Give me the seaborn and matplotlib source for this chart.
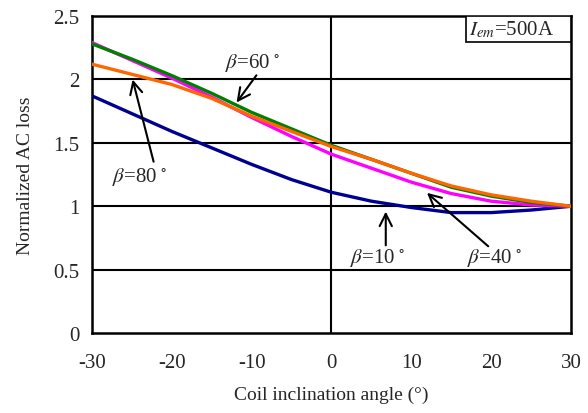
import pandas as pd
import matplotlib.pyplot as plt
import seaborn as sns
from matplotlib.patches import Rectangle

# coil inclination angle (deg)
angle = [-30, -25, -20, -15, -10, -5, 0, 5, 10, 15, 20, 25, 30]

# normalized AC loss for each beta
loss_b10 = [1.87, 1.73, 1.59, 1.46, 1.33, 1.21, 1.11, 1.04, 0.99, 0.95, 0.95, 0.97, 1.00]
loss_b40 = [2.29, 2.15, 2.01, 1.86, 1.70, 1.55, 1.41, 1.30, 1.19, 1.10, 1.04, 1.01, 1.00]
loss_b60 = [2.28, 2.16, 2.03, 1.89, 1.74, 1.61, 1.48, 1.37, 1.26, 1.15, 1.08, 1.03, 1.00]
loss_b80 = [2.12, 2.04, 1.96, 1.85, 1.71, 1.59, 1.47, 1.37, 1.26, 1.16, 1.09, 1.04, 1.00]

beta_labels = ['10', '40', '60', '80']
line_colors = ['#000090', '#ff00ff', '#008000', '#ff6600']

df = pd.DataFrame({
    'angle': angle * 4,
    'loss': loss_b10 + loss_b40 + loss_b60 + loss_b80,
    'beta': sum([[b] * len(angle) for b in beta_labels], []),
})

sns.set_style("white")
plt.rcParams['font.family'] = ['Liberation Serif', 'DejaVu Serif']
plt.rcParams['mathtext.fontset'] = 'stix'
plt.rcParams['axes.unicode_minus'] = False

fig = plt.figure(figsize=(5.88, 4.14), dpi=100)
ax = fig.add_axes([0.1565, 0.193, 0.8145, 0.766])

# grid lines and the zero line
for yv in [0.5, 1.0, 1.5, 2.0]:
    ax.axhline(yv, color='black', lw=1.5, zorder=1)
ax.axvline(0, color='black', lw=1.5, zorder=1)

sns.lineplot(data=df, x='angle', y='loss', hue='beta', palette=line_colors,
             linewidth=2.4, legend=False, ax=ax, zorder=3)

ax.set_xlim(-30, 30)
ax.set_ylim(0, 2.5)
ax.set_xticks([-30, -20, -10, 0, 10, 20, 30])
ax.set_yticks([0, 0.5, 1, 1.5, 2, 2.5])
ax.set_yticklabels(['0', '0.5', '1', '1.5', '2', '2.5'])
ax.tick_params(axis='x', direction='in', length=5, width=1.5, labelsize=15, pad=14)
ax.tick_params(axis='y', length=0, labelsize=15, pad=9)
for s in ax.spines.values():
    s.set_color('black')
    s.set_linewidth(1.8)

ax.set_xlabel('Coil inclination angle (°)', fontsize=14, labelpad=10)
ax.set_ylabel('Normalized AC loss', fontsize=14, labelpad=14)

# annotations
arrow = dict(arrowstyle='->', color='black', lw=1.5, mutation_scale=22)
ax.text(-9.8, 2.14, r'$\beta$=60$\,^\circ$', ha='center', va='center', fontsize=15)
ax.annotate('', xy=(-12.1, 1.80), xytext=(-9.2, 2.05), arrowprops=arrow)
ax.text(-24.0, 1.24, r'$\beta$=80$\,^\circ$', ha='center', va='center', fontsize=15)
ax.annotate('', xy=(-25.0, 2.02), xytext=(-22.2, 1.33), arrowprops=arrow)
ax.text(5.8, 0.60, r'$\beta$=10$\,^\circ$', ha='center', va='center', fontsize=15)
ax.annotate('', xy=(6.8, 0.98), xytext=(6.8, 0.67), arrowprops=arrow)
ax.text(20.4, 0.60, r'$\beta$=40$\,^\circ$', ha='center', va='center', fontsize=15)
ax.annotate('', xy=(11.7, 1.12), xytext=(19.9, 0.67), arrowprops=arrow)

# current label box in the top right corner
ax.add_patch(Rectangle((0.781, 0.918), 0.219, 0.082, transform=ax.transAxes,
                       fc='white', ec='black', lw=1.2, zorder=4))
ax.text(0.787, 0.958, r'$I_{em}$=500A', transform=ax.transAxes, ha='left', va='center',
        fontsize=15, zorder=5)

fig.savefig('out.png', dpi=100)
